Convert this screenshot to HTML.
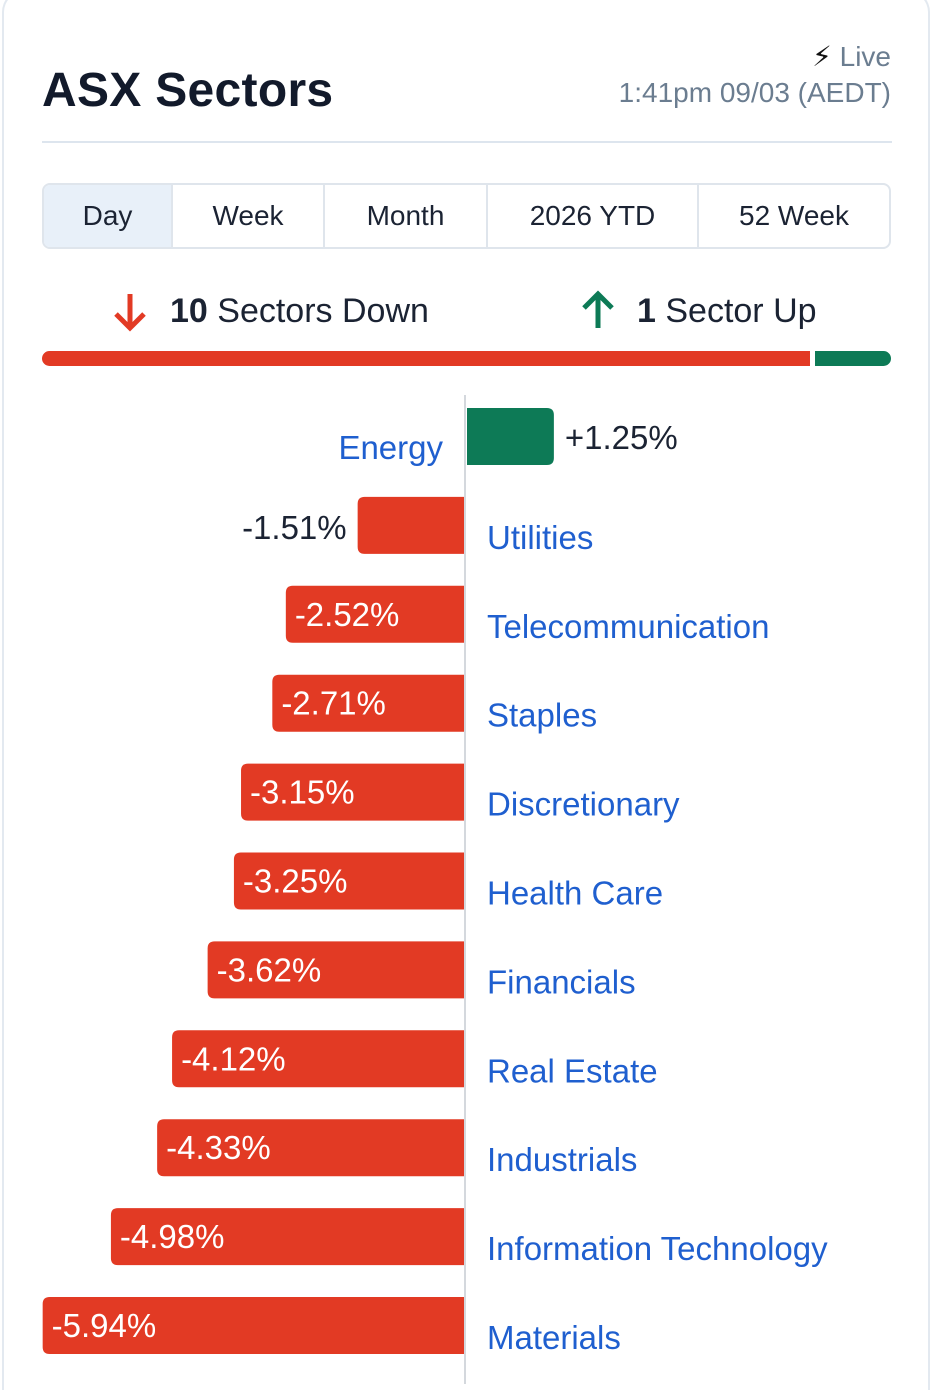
<!DOCTYPE html>
<html><head><meta charset="utf-8"><style>
html,body{margin:0;width:936px;height:1384px;background:#fff;overflow:hidden;font-family:"Liberation Sans",sans-serif;}
.card{position:absolute;left:2px;top:-10px;width:928px;height:1400px;border:2px solid #e3e9f0;border-bottom:none;border-radius:22px 22px 0 0;box-sizing:border-box;}
.abs{position:absolute;}
.tab{position:absolute;top:185px;height:62px;line-height:62px;text-align:center;font-size:28px;color:#1b2333;border-left:2px solid #dfe5ec;box-sizing:border-box;}
</style></head><body>
<div class="card"></div>
<div class="abs" style="left:42px;top:63px;font-size:48px;font-weight:bold;color:#121a2b;letter-spacing:0.3px;">ASX Sectors</div>
<div class="abs" style="right:45px;top:40px;font-size:28px;color:#6b7d90;"><span style="color:#111;">&#x26A1;&#xFE0E;</span> Live</div>
<div class="abs" style="right:45px;top:77px;font-size:28px;color:#6b7d90;">1:41pm 09/03 (AEDT)</div>
<div class="abs" style="left:42px;top:141px;width:850px;height:2px;background:#dde5ee;"></div>
<div class="abs" style="left:42px;top:183px;width:849px;height:66px;border:2px solid #dfe5ec;border-radius:8px;box-sizing:border-box;"></div>
<div class="tab" style="left:44px;width:127px;background:#e8f0f9;border-left:none;border-radius:6px 0 0 6px;">Day</div>
<div class="tab" style="left:171px;width:152px;">Week</div>
<div class="tab" style="left:323px;width:163px;">Month</div>
<div class="tab" style="left:486px;width:211px;">2026 YTD</div>
<div class="tab" style="left:697px;width:192px;">52 Week</div>
<svg class="abs" style="left:108px;top:290px" width="44" height="44" viewBox="0 0 44 44"><path d="M22 4V38M8 24L22 38L36 24" stroke="#e23a24" stroke-width="5" fill="none"/></svg>
<div class="abs" style="left:170px;top:292px;font-size:34px;color:#1b2333;"><b>10</b> Sectors Down</div>
<svg class="abs" style="left:576px;top:288px" width="44" height="44" viewBox="0 0 44 44"><path d="M22 40V6M8 20L22 6L36 20" stroke="#0d7a56" stroke-width="5" fill="none"/></svg>
<div class="abs" style="left:637px;top:292px;font-size:34px;color:#1b2333;"><b>1</b> Sector Up</div>
<div class="abs" style="left:42px;top:351px;width:768px;height:15px;background:#e23a24;border-radius:8px 0 0 8px;"></div>
<div class="abs" style="left:815px;top:351px;width:76px;height:15px;background:#0d7a56;border-radius:0 8px 8px 0;"></div>
<svg id="chart" class="abs" style="left:0;top:0" width="936" height="1384"></svg>
<script>
const sectors=["Energy","Utilities","Telecommunication","Staples","Discretionary","Health Care","Financials","Real Estate","Industrials","Information Technology","Materials"];
const values=[1.25,-1.51,-2.52,-2.71,-3.15,-3.25,-3.62,-4.12,-4.33,-4.98,-5.94];
const labels=["+1.25%","-1.51%","-2.52%","-2.71%","-3.15%","-3.25%","-3.62%","-4.12%","-4.33%","-4.98%","-5.94%"];
const NS="http://www.w3.org/2000/svg";
const svg=document.getElementById('chart');
const x0=465,scale=71.1,top0=408,step=88.9,bh=57;
const xs=v=>x0+v*scale;
const ys=i=>top0+i*step;
function mk(t,a){const e=document.createElementNS(NS,t);for(const k in a)e.setAttribute(k,a[k]);svg.appendChild(e);return e;}
const ax=mk('line',{x1:x0,x2:x0,y1:395,y2:1384,stroke:'#d4d8dd','stroke-width':2});


values.forEach((v,i)=>{
  const y=ys(i),xe=xs(v),r=7;
  let d;
  if(v>=0){d=`M${x0+2},${y}H${xe-r}Q${xe},${y} ${xe},${y+r}V${y+bh-r}Q${xe},${y+bh} ${xe-r},${y+bh}H${x0+2}Z`;}
  else{d=`M${x0-1},${y}H${xe+r}Q${xe},${y} ${xe},${y+r}V${y+bh-r}Q${xe},${y+bh} ${xe+r},${y+bh}H${x0-1}Z`;}
  const b=mk('path',{d:d,fill:v>=0?'#0d7a56':'#e23a24'});
  
  
  const w=Math.abs(xe-x0);
  let vt;
  if(v>=0){vt=mk('text',{x:xe+11,y:y+41,'font-size':33,fill:'#1b2333'});}
  else if(w<130){vt=mk('text',{x:xe-11,y:y+42,'font-size':33,fill:'#1b2333','text-anchor':'end'});}
  else{vt=mk('text',{x:xe+9,y:y+40,'font-size':33,fill:'#fff'});}
  vt.textContent=labels[i];
  
  
  let st;
  if(v>=0){st=mk('text',{x:x0-22,y:y+51,'font-size':33,fill:'#1f5fcf','text-anchor':'end'});}
  else{st=mk('text',{x:x0+22,y:y+52,'font-size':33,fill:'#1f5fcf'});}
  st.textContent=sectors[i];
  
  
});
</script>
</body></html>
